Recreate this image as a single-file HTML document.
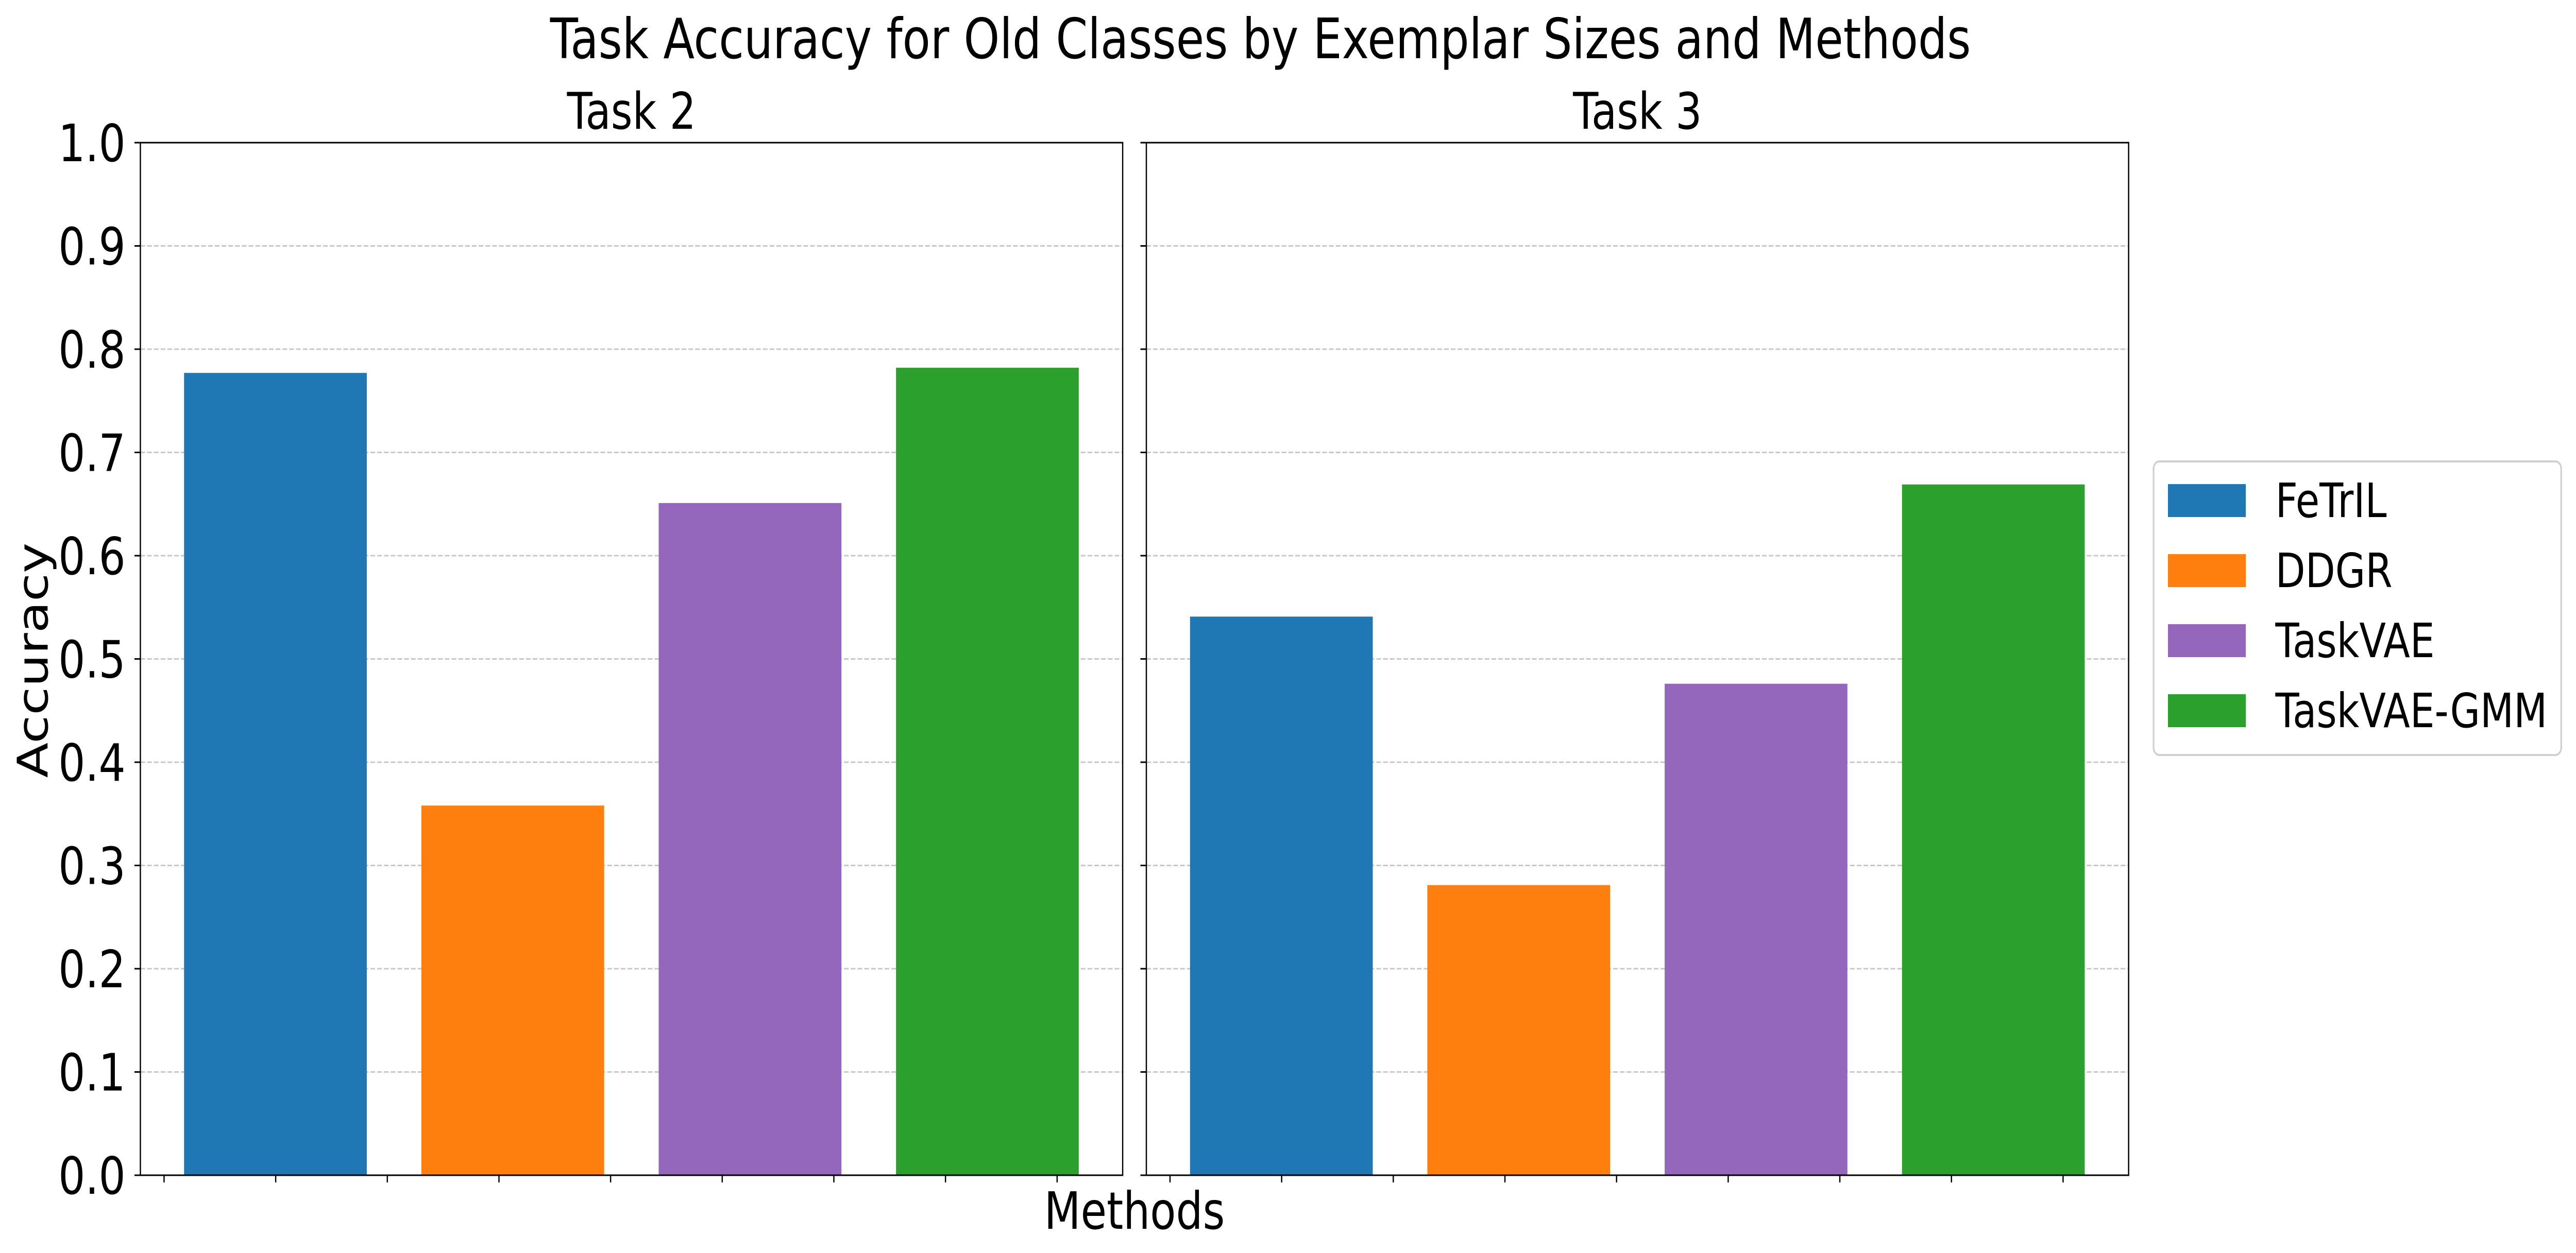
<!DOCTYPE html>
<html><head><meta charset="utf-8"><style>
html,body{margin:0;padding:0;background:#fff;overflow:hidden;width:100%;height:100%;}
svg{display:block;width:100vw;height:100vh;font-family:"DejaVu Sans","Liberation Sans",sans-serif;}
</style></head><body>
<svg id="chart" viewBox="0 0 6092 2433" preserveAspectRatio="none" xmlns="http://www.w3.org/2000/svg">
<rect width="6092" height="2433" fill="#fff"/>
<text x="2981" y="113" font-size="108" text-anchor="middle" textLength="3360" lengthAdjust="spacingAndGlyphs">Task Accuracy for Old Classes by Exemplar Sizes and Methods</text>
<g id="panels"></g>
<text x="2683" y="2386" font-size="100" text-anchor="middle">Methods</text>
<text transform="translate(113,1282) rotate(-90)" font-size="100" text-anchor="middle">Accuracy</text>
<g id="legend"></g>
</svg>
<script>
const methods = ["FeTrIL","DDGR","TaskVAE","TaskVAE-GMM"];
const colors = ["#1f77b4","#ff7f0e","#9467bd","#2ca02c"];
const panelTitles = ["Task 2","Task 3"];
const task2Values = [0.777, 0.358, 0.651, 0.782];
const task3Values = [0.541, 0.281, 0.476, 0.669];
const yTicks = [0.0,0.1,0.2,0.3,0.4,0.5,0.6,0.7,0.8,0.9,1.0];
const yTickLabels = ["0.0","0.1","0.2","0.3","0.4","0.5","0.6","0.7","0.8","0.9","1.0"];

const NS = "http://www.w3.org/2000/svg";
const panelsG = document.getElementById('panels');
const axTop = 277, axBottom = 2282, axW = 2323;
const panelLefts = [332, 2711];
const xMin = -0.569, xMax = 3.57, barW = 0.77;
function mk(tag, attrs, parent){const e=document.createElementNS(NS,tag);for(const k in attrs)e.setAttribute(k,attrs[k]);parent.appendChild(e);return e;}
function yScale(v){return axBottom - v*(axBottom-axTop);}

[task2Values, task3Values].forEach((vals, p) => {
  const left = panelLefts[p];
  const xScale = x => left + (x - xMin)/(xMax - xMin)*axW;
  const g = mk('g', {}, panelsG);
  
  
  yTicks.forEach((t, i) => {
    if (i > 0 && i < yTicks.length - 1) {
      const gl = mk('line', {x1:left, x2:left+axW, y1:yScale(t), y2:yScale(t), stroke:'#c8c8c8', 'stroke-width':3, 'stroke-dasharray':'11,5'}, g);
      
      
    }
    const tk = mk('line', {x1:left-14, x2:left, y1:yScale(t), y2:yScale(t), stroke:'#000', 'stroke-width':3}, g);
    
    
    if (p === 0) {
      const tl = mk('text', {x:left-35, y:yScale(t)+36, 'font-size':100, 'text-anchor':'end'}, g);
      tl.textContent = yTickLabels[i];
      
      
    }
  });
  vals.forEach((v, i) => {
    const x0 = xScale(i - barW/2), x1 = xScale(i + barW/2);
    const b = mk('rect', {x:x0, y:yScale(v), width:x1-x0, height:yScale(0)-yScale(v), fill:colors[i]}, g);
    
    
  });
  for (let k = 0; k < 9; k++) {
    const x = left + 56 + k*264;
    const xt = mk('line', {x1:x, x2:x, y1:axBottom, y2:axBottom+14, stroke:'#000', 'stroke-width':3}, g);
    
    
  }
  const fr = mk('rect', {x:left, y:axTop, width:axW, height:axBottom-axTop, fill:'none', stroke:'#000', 'stroke-width':3}, g);
  
  
  const tt = mk('text', {x:left+axW/2, y:250, 'font-size':98, 'text-anchor':'middle'}, g);
  tt.textContent = panelTitles[p];
  
  
});

const lg = document.getElementById('legend');
const lbox = mk('rect', {x:5093, y:896, width:964, height:570, rx:14, fill:'#fff', stroke:'#d0d0d0', 'stroke-width':4}, lg);


methods.forEach((m, i) => {
  const y = 940 + i*136;
  const pr = mk('rect', {x:5127, y:y, width:184, height:64, fill:colors[i]}, lg);
  
  
  const t = mk('text', {x:5381, y:y+64, 'font-size':92}, lg);
  t.textContent = m;
  
  
});
</script>
</body></html>
